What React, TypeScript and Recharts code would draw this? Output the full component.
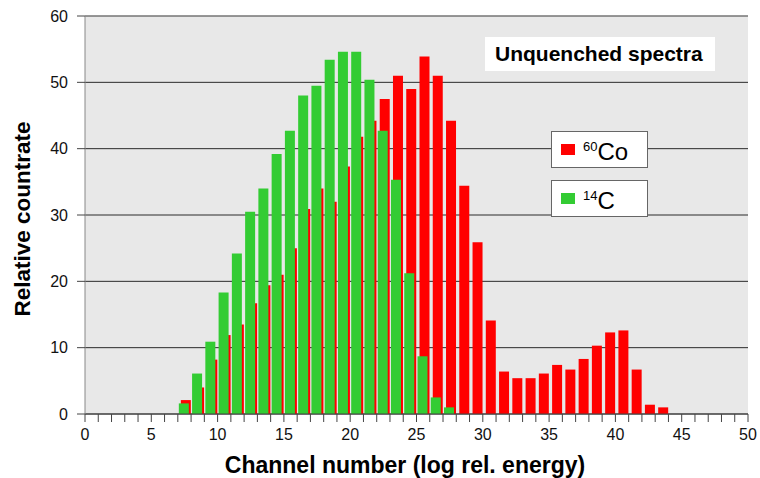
import { Bar, BarChart, CartesianGrid, Label, Legend, ReferenceLine, XAxis, YAxis } from 'recharts'

// channel numbers (one bin per channel, bin n spans [n, n + 1])
const channels = [
  7, 8, 9, 10, 11, 12, 13, 14, 15, 16, 17, 18, 19, 20, 21, 22, 23, 24, 25, 26, 27, 28, 29, 30, 31, 32, 33, 34, 35,
  36, 37, 38, 39, 40, 41, 42, 43,
]
// 60Co counts per channel, channels 7..43
const cobalt60 = [
  2.1, 4.0, 8.2, 11.9, 13.5, 16.7, 19.4, 21.0, 25.0, 30.9, 34.0, 32.0, 37.3, 41.8, 44.2, 47.5, 51.0, 49.0, 53.9,
  51.0, 44.2, 34.4, 25.9, 14.1, 6.4, 5.4, 5.4, 6.1, 7.4, 6.7, 8.3, 10.3, 12.3, 12.6, 6.7, 1.4, 1.0,
]
// 14C counts per channel, channels 7..27
const carbon14 = [
  1.6, 6.1, 10.9, 18.3, 24.2, 30.5, 34.0, 39.2, 42.7, 48.0, 49.5, 53.4, 54.6, 54.6, 50.4, 42.7, 35.3, 21.2, 8.7, 2.5,
  1.0,
]

const xTicks = Array.from({ length: 51 }, (_, i) => i)
const yTicks = [0, 10, 20, 30, 40, 50, 60]

const massNumbers = ['60', '14']
const elements = ['Co', 'C']
const seriesColors = ['#ff0000', '#33cc33']

const rows = channels.map((ch, i) => ({
  bin: ch + 0.5,
  co: cobalt60[i],
  c: carbon14[i],
}))

const font = '"Liberation Sans", Arial, sans-serif'

function YTitle(props: any) {
  const { viewBox } = props
  const cx = 22
  const cy = viewBox.y + viewBox.height / 2 + 4
  return (
    <text
      x={cx}
      y={cy}
      transform={`rotate(-90 ${cx} ${cy})`}
      textAnchor="middle"
      dominantBaseline="central"
      fontFamily={font}
      fontWeight="bold"
      fontSize={22.5}
      fill="#000"
    >
      Relative countrate
    </text>
  )
}

function XTitle(props: any) {
  const { viewBox } = props
  return (
    <text
      x={405}
      y={viewBox.y + 59}
      textAnchor="middle"
      fontFamily={font}
      fontWeight="bold"
      fontSize={23}
      fill="#000"
    >
      Channel number (log rel. energy)
    </text>
  )
}

// boxed legend entries, 60Co above 14C
function SpectraLegend() {
  return (
    <div>
      {elements.map((el, i) => (
        <div
          key={el}
          style={{
            width: 95,
            height: 35,
            boxSizing: 'content-box',
            border: '1px solid #666',
            background: '#fff',
            marginBottom: 12,
            display: 'flex',
            alignItems: 'center',
            fontFamily: font,
            color: '#000',
          }}
        >
          <span style={{ width: 14, height: 11, background: seriesColors[i], marginLeft: 9, marginRight: 8 }} />
          <span style={{ fontSize: 24, lineHeight: '24px' }}>
            <sup style={{ fontSize: 13, verticalAlign: 9 }}>{massNumbers[i]}</sup>
            {el}
          </span>
        </div>
      ))}
    </div>
  )
}

export default function App() {
  return (
    <div style={{ position: 'absolute', left: 0, top: 0, width: 760, height: 478, background: '#fff' }}>
      <BarChart
        width={760}
        height={478}
        data={rows}
        margin={{ top: 16, right: 12, bottom: 0, left: 0 }}
        barGap={-12}
      >
        <CartesianGrid vertical={false} fill="#e8e8e8" stroke="#2a2a2a" />
        <XAxis
          dataKey="bin"
          type="number"
          domain={[0, 50]}
          ticks={xTicks}
          interval={0}
          height={64}
          tickSize={8}
          tickMargin={7}
          tickFormatter={(v: number) => (v % 5 === 0 ? String(v) : '')}
          tick={{ fill: '#111', fontSize: 16, fontFamily: font }}
          axisLine={{ stroke: '#444' }}
          tickLine={{ stroke: '#444' }}
        >
          <Label content={XTitle} />
        </XAxis>
        <YAxis
          domain={[0, 60]}
          ticks={yTicks}
          width={85}
          tickSize={8}
          tickMargin={9}
          tick={{ fill: '#111', fontSize: 16, fontFamily: font }}
          axisLine={{ stroke: '#888' }}
          tickLine={{ stroke: '#444' }}
        >
          <Label content={YTitle} />
        </YAxis>
        <ReferenceLine y={60} stroke="#999" />
        <Legend
          layout="vertical"
          align="center"
          verticalAlign="middle"
          content={SpectraLegend}
          wrapperStyle={{ position: 'absolute', left: 551, top: 131, width: 97, height: 'auto' }}
        />
        <Bar dataKey="co" name="60Co" fill={seriesColors[0]} barSize={10} isAnimationActive={false} />
        <Bar dataKey="c" name="14C" fill={seriesColors[1]} barSize={10} isAnimationActive={false} />
      </BarChart>
      <div
        style={{
          position: 'absolute',
          left: 485,
          top: 37,
          width: 230,
          height: 34,
          background: '#fff',
          fontFamily: font,
          fontWeight: 'bold',
          fontSize: 21,
          lineHeight: '34px',
          paddingLeft: 10,
          boxSizing: 'border-box',
          color: '#000',
        }}
      >
        Unquenched spectra
      </div>
    </div>
  )
}
